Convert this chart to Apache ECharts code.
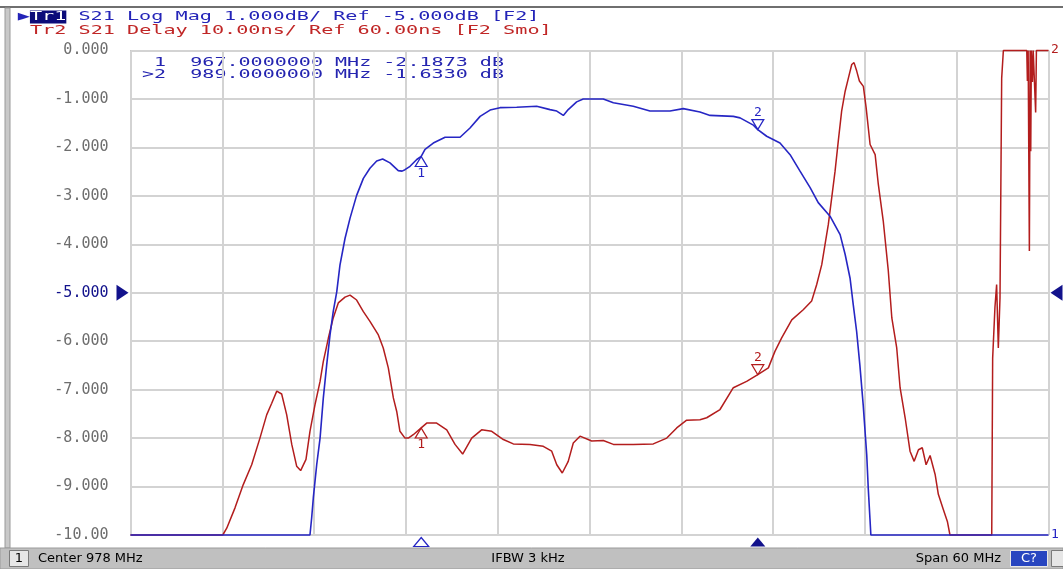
<!DOCTYPE html>
<html>
<head>
<meta charset="utf-8">
<script src="https://cdn.jsdelivr.net/npm/echarts@6/dist/echarts.min.js"></script>
<style>
    html, body { margin: 0; padding: 0; background: #fff; }
    #main { width: 1063px; height: 569px; }
</style>
</head>
<body>
<div id="main"></div>
<script>
    // Tr1: S21 log mag (dB)
    var freqMag = [948, 959.73, 959.84, 959.95, 960.17, 960.39, 960.60, 960.82, 961.04, 961.25,
        961.48, 961.69, 962.02, 962.35, 962.78, 963.22, 963.65, 964.09, 964.48, 964.96,
        965.50, 965.75, 965.94, 966.27, 966.71, 967.0, 967.25, 967.79, 968.56, 969.54,
        970.19, 970.85, 971.50, 972.15, 973.24, 974.55, 975.42, 975.86, 976.29, 976.61,
        977.16, 977.59, 978.90, 979.56, 980.86, 981.95, 983.26, 984.13, 985.22, 985.88,
        987.40, 987.84, 988.71, 989.0, 989.58, 990.45, 991.11, 991.76, 992.42, 992.95,
        993.72, 994.38, 994.71, 995.03, 995.24, 995.46, 995.67, 995.89, 996.12, 996.22,
        996.33, 996.39, 1008];
    var magDb = [-10, -10, -9.65, -9.23, -8.55, -8.0, -7.18, -6.5, -5.87, -5.39,
        -4.98, -4.43, -3.88, -3.46, -2.99, -2.64, -2.43, -2.28, -2.24, -2.32,
        -2.48, -2.49, -2.46, -2.39, -2.25, -2.187, -2.04, -1.91, -1.79, -1.79,
        -1.60, -1.36, -1.23, -1.18, -1.17, -1.15, -1.22, -1.25, -1.34, -1.22,
        -1.06, -1.00, -1.00, -1.08, -1.15, -1.25, -1.25, -1.20, -1.27, -1.34,
        -1.36, -1.39, -1.54, -1.633, -1.77, -1.91, -2.15, -2.49, -2.83, -3.14,
        -3.42, -3.80, -4.21, -4.70, -5.25, -5.80, -6.49, -7.32, -8.35, -9.04,
        -9.66, -10, -10];

    // Tr2: S21 group delay (ns), clamped to the screen range 10..110
    var freqDelay = [948, 954.03, 954.29, 954.83, 955.37, 955.92, 956.46, 956.90, 957.23, 957.56,
        957.88, 958.21, 958.54, 958.86, 959.12, 959.47, 959.73, 960.06, 960.39, 960.60,
        960.93, 961.25, 961.58, 962.02, 962.35, 962.78, 963.22, 963.65, 964.20, 964.52,
        964.85, 965.18, 965.40, 965.61, 965.94, 966.16, 966.48, 967.0, 967.36, 968.01,
        968.67, 969.21, 969.71, 970.30, 970.95, 971.61, 972.37, 973.02, 974.11, 974.98,
        975.53, 975.86, 976.22, 976.61, 976.94, 977.38, 978.14, 978.90, 979.56, 980.86,
        982.17, 983.05, 983.70, 984.35, 985.22, 985.66, 986.53, 987.40, 988.27, 989.0,
        989.69, 990.12, 990.56, 991.22, 991.97, 992.52, 992.85, 993.18, 993.39, 993.61,
        993.83, 994.05, 994.26, 994.48, 994.71, 994.92, 995.14, 995.29, 995.47, 995.64,
        995.90, 996.08, 996.34, 996.67, 996.88, 997.20, 997.53, 997.76, 998.08, 998.30,
        998.63, 998.95, 999.22, 999.50, 999.75, 1000.0, 1000.26, 1000.59, 1000.80, 1001.12,
        1001.39, 1001.56, 1004.29, 1004.35, 1004.50, 1004.61, 1004.72, 1004.83, 1004.94, 1005.05,
        1006.58, 1006.62, 1006.67, 1006.73, 1006.75, 1006.80, 1006.84, 1006.88, 1006.95, 1007.0,
        1007.16, 1007.21, 1008];
    var delayNs = [10, 10, 11.4, 15.6, 20.4, 24.5, 30.0, 34.8, 37.2, 39.7,
        39.1, 34.8, 28.7, 24.2, 23.3, 25.6, 31.4, 36.9, 41.7, 45.8,
        50.6, 54.8, 57.9, 59.1, 59.5, 58.5, 56.1, 54.1, 51.3, 48.6,
        44.5, 38.3, 35.5, 31.4, 30.0, 30.0, 30.7, 32.1, 33.1, 33.1,
        31.7, 28.7, 26.7, 30.0, 31.7, 31.4, 29.7, 28.8, 28.7, 28.3,
        27.3, 24.5, 22.8, 25.2, 29.0, 30.4, 29.4, 29.5, 28.7, 28.7,
        28.8, 30.0, 32.1, 33.7, 33.8, 34.2, 35.9, 40.4, 41.7, 43.1,
        44.5, 47.9, 50.7, 54.4, 56.5, 58.3, 61.7, 65.8, 69.9, 74.1,
        79.6, 85.1, 91.3, 97.5, 101.6, 104.3, 107.1, 107.5, 105.7, 103.7,
        102.6, 98.2, 90.6, 88.5, 82.3, 74.8, 64.5, 54.8, 48.6, 40.4,
        34.2, 27.3, 25.2, 27.6, 28.0, 24.5, 26.4, 22.5, 18.4, 15.3,
        12.8, 10, 10, 46.5, 57.0, 61.7, 48.6, 58.9, 104.3, 110,
        110, 103.7, 110, 110, 68.6, 110, 89.2, 110, 103.5, 110,
        97.2, 110, 110];

    // markers
    var markerFreq = [967, 989];
    var markerMag = [-2.1873, -1.6330];
    var markerDelay = [32.1, 43.1];

    var magTicks = ['0.000', '-1.000', '-2.000', '-3.000', '-4.000', '-5.000',
        '-6.000', '-7.000', '-8.000', '-9.000', '-10.00'];

    var blue = '#2626c4';
    var navy = '#12128c';
    var red = '#b31d1d';
    var mono = '"DejaVu Sans Mono", monospace';

    function zip(xs, ys) {
        var out = [];
        for (var i = 0; i < xs.length; i++) out.push([xs[i], ys[i]]);
        return out;
    }

    function markers(vals, color) {
        return {
            silent: true,
            animation: false,
            data: [
                {
                    coord: [markerFreq[0], vals[0]], symbol: 'triangle', symbolSize: [12, 10], symbolOffset: [0, 5],
                    itemStyle: {color: 'rgba(0,0,0,0)', borderColor: color, borderWidth: 1.2},
                    label: {show: true, position: 'bottom', distance: 0, formatter: '1', color: color, fontFamily: mono, fontSize: 13}
                },
                {
                    coord: [markerFreq[1], vals[1]], symbol: 'triangle', symbolRotate: 180, symbolSize: [12, 10], symbolOffset: [0, -5],
                    itemStyle: {color: 'rgba(0,0,0,0)', borderColor: color, borderWidth: 1.2},
                    label: {show: true, position: 'top', distance: 0, formatter: '2', color: color, fontFamily: mono, fontSize: 13}
                }
            ]
        };
    }

    var chart = echarts.init(document.getElementById('main'));
    var option = {
        animation: false,
        backgroundColor: '#ffffff',
        grid: {
            left: 130.5, right: 14.5, top: 50.5, bottom: 34,
            show: true, borderColor: '#8a8a8a', borderWidth: 1,
            outerBoundsMode: 'none'
        },
        xAxis: {
            type: 'value', min: 948, max: 1008, interval: 6,
            axisLine: {show: false}, axisTick: {show: false}, axisLabel: {show: false},
            splitLine: {show: true, lineStyle: {color: '#d3d3d3', width: 2}}
        },
        yAxis: [
            {
                type: 'value', min: -10, max: 0, interval: 1,
                axisLine: {show: false}, axisTick: {show: false},
                axisLabel: {
                    margin: 22, fontFamily: mono, fontSize: 15, color: '#6e6e6e',
                    formatter: function (v) {
                        var i = Math.round(-v);
                        return i === 5 ? '{ref|' + magTicks[i] + '}' : magTicks[i];
                    },
                    rich: {ref: {color: navy, fontFamily: mono, fontSize: 15}}
                },
                splitLine: {show: true, lineStyle: {color: '#d3d3d3', width: 2}}
            },
            {
                type: 'value', min: 10, max: 110, interval: 10, show: false
            }
        ],
        series: [
            {
                name: 'Tr2 Delay', type: 'line', yAxisIndex: 1, symbol: 'none', clip: false,
                lineStyle: {color: red, width: 1.5},
                data: zip(freqDelay, delayNs),
                markPoint: markers(markerDelay, red)
            },
            {
                name: 'Tr1 Log Mag', type: 'line', yAxisIndex: 0, symbol: 'none', clip: false,
                lineStyle: {color: blue, width: 1.6},
                data: zip(freqMag, magDb),
                markPoint: markers(markerMag, blue)
            },
            {
                // stimulus markers under the axis and reference-level arrows
                type: 'scatter', yAxisIndex: 0, clip: false, silent: true, z: 5,
                itemStyle: {opacity: 1},
                data: [
                    {value: [markerFreq[0], -10], symbol: 'triangle', symbolSize: [15, 9], symbolOffset: [0, 7],
                        itemStyle: {color: '#ffffff', borderColor: blue, borderWidth: 1.2, opacity: 1}},
                    {value: [markerFreq[1], -10], symbol: 'triangle', symbolSize: [15, 9], symbolOffset: [0, 7],
                        itemStyle: {color: navy, opacity: 1}},
                    {value: [948, -5], symbol: 'triangle', symbolRotate: -90, symbolSize: [16, 12], symbolOffset: [-8, 0],
                        itemStyle: {color: navy, opacity: 1}},
                    {value: [1008, -5], symbol: 'triangle', symbolRotate: 90, symbolSize: [16, 12], symbolOffset: [8, 0],
                        itemStyle: {color: navy, opacity: 1}}
                ]
            }
        ],
        graphic: [
            // window frame
            {type: 'rect', shape: {x: 0, y: 6, width: 1063, height: 2}, style: {fill: '#6f6f6f'}},
            {type: 'rect', shape: {x: 5, y: 8, width: 5, height: 540}, style: {fill: '#c9c9c9', stroke: '#9a9a9a', lineWidth: 1}},
            // trace headers
            {
                type: 'text', x: 17.8, y: 17, scaleX: 1.55,
                style: {
                    text: '▶{b|Tr1} S21 Log Mag 1.000dB/ Ref -5.000dB [F2]',
                    font: '13px ' + mono, fill: '#2424b8', verticalAlign: 'middle',
                    rich: {b: {backgroundColor: '#0c0c7a', fill: '#ffffff', fontSize: 13, fontFamily: mono}}
                }
            },
            {
                type: 'text', x: 30, y: 31, scaleX: 1.55,
                style: {text: 'Tr2 S21 Delay 10.00ns/ Ref 60.00ns [F2 Smo]', font: '13px ' + mono, fill: '#c02626', verticalAlign: 'middle'}
            },
            // marker readout
            {
                type: 'text', x: 142, y: 63, scaleX: 1.67,
                style: {text: ' 1  967.0000000 MHz -2.1873 dB', font: '12px ' + mono, fill: '#2424b0', verticalAlign: 'middle'}
            },
            {
                type: 'text', x: 142, y: 75, scaleX: 1.67,
                style: {text: '>2  989.0000000 MHz -1.6330 dB', font: '12px ' + mono, fill: '#2424b0', verticalAlign: 'middle'}
            },
            // scale tags on the right edge
            {type: 'text', x: 1051, y: 50, style: {text: '2', font: '13px ' + mono, fill: red, verticalAlign: 'middle'}},
            {type: 'text', x: 1051, y: 535, style: {text: '1', font: '13px ' + mono, fill: blue, verticalAlign: 'middle'}},
            // status bar
            {type: 'rect', shape: {x: 0, y: 548, width: 1063, height: 21}, style: {fill: '#c0c0c0', stroke: '#9a9a9a', lineWidth: 1}},
            {type: 'rect', shape: {x: 9.5, y: 550.5, width: 19, height: 16}, style: {fill: '#e6e6e6', stroke: '#7a7a7a', lineWidth: 1}},
            {type: 'text', x: 19, y: 559, style: {text: '1', font: '13px "DejaVu Sans"', fill: '#000', align: 'center', verticalAlign: 'middle'}},
            {type: 'text', x: 38, y: 559, style: {text: 'Center 978 MHz', font: '13px "DejaVu Sans"', fill: '#000', verticalAlign: 'middle'}},
            {type: 'text', x: 528, y: 559, style: {text: 'IFBW 3 kHz', font: '13px "DejaVu Sans"', fill: '#000', align: 'center', verticalAlign: 'middle'}},
            {type: 'text', x: 1001, y: 559, style: {text: 'Span 60 MHz', font: '13px "DejaVu Sans"', fill: '#000', align: 'right', verticalAlign: 'middle'}},
            {type: 'rect', shape: {x: 1010.5, y: 550.5, width: 37, height: 16}, style: {fill: '#2846c0', stroke: '#e8e8e8', lineWidth: 1}},
            {type: 'text', x: 1029, y: 559, style: {text: 'C?', font: '13px "DejaVu Sans"', fill: '#ffffff', align: 'center', verticalAlign: 'middle'}},
            {type: 'rect', shape: {x: 1051.5, y: 550.5, width: 12, height: 16}, style: {fill: '#e6e6e6', stroke: '#7a7a7a', lineWidth: 1}}
        ]
    };
    chart.setOption(option);
</script>
</body>
</html>
